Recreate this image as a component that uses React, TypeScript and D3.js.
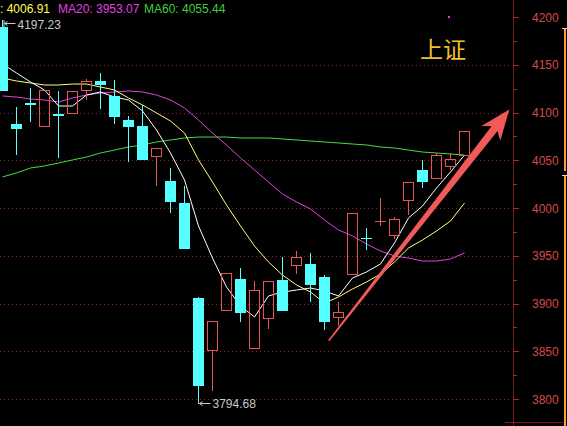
import React from "react";
import * as d3 from "d3";

// ---- data ----
const OPEN = [4189.5, 4088.0, 4110.0, 4084.8, 4098.4, 4098.4, 4122.5, 4133.0, 4117.3, 4092.1, 4085.9, 4053.4, 4028.3, 4005.2, 3905.8, 3850.3, 3892.2, 3925.7, 3852.4, 3883.8, 3924.6, 3939.3, 3941.4, 3927.8, 3884.8, 3929.9, 3968.6, 3985.7, 3970.7, 4007.3, 4039.8, 4030.4, 4042.9, 4054.5];
const HIGH = [4197.23, 4105.8, 4125.7, 4123.6, 4122.5, 4122.5, 4135.1, 4141.4, 4134.0, 4096.3, 4107.9, 4062.8, 4041.9, 4023.0, 3906.8, 3881.7, 3931.9, 3937.2, 3923.6, 3923.6, 3948.7, 3955.0, 3952.9, 3929.9, 3901.6, 3994.8, 3979.1, 4010.5, 3990.6, 4027.2, 4050.3, 4057.6, 4057.6, 4080.6];
const LOW = [4122.5, 4055.5, 4090.1, 4084.8, 4052.4, 4098.4, 4113.1, 4103.7, 4088.0, 4048.2, 4050.3, 4023.0, 3994.8, 3957.1, 3794.68, 3808.4, 3892.2, 3880.6, 3852.4, 3873.3, 3892.2, 3930.9, 3901.6, 3872.3, 3876.4, 3929.9, 3956.0, 3981.2, 3967.5, 3992.7, 4020.9, 4030.4, 4039.8, 4054.5];
const CLOSE = [4122.5, 4082.7, 4107.9, 4123.6, 4096.3, 4122.5, 4133.0, 4128.8, 4095.3, 4084.8, 4050.3, 4062.8, 4006.3, 3957.1, 3813.6, 3881.7, 3931.9, 3890.1, 3914.1, 3923.6, 3892.2, 3948.7, 3919.4, 3880.6, 3891.1, 3994.8, 3967.5, 3986.6, 3988.5, 4027.2, 4027.2, 4055.5, 4051.3, 4080.6];

const MA5 = [4150.8, 4141.4, 4131.9, 4123.6, 4106.8, 4106.8, 4118.3, 4121.5, 4116.2, 4113.1, 4101.6, 4081.7, 4057.6, 4029.3, 3981.2, 3947.6, 3917.3, 3897.4, 3885.9, 3907.9, 3912.0, 3914.1, 3916.2, 3913.1, 3907.9, 3926.7, 3933.0, 3941.4, 3963.4, 3989.5, 4002.1, 4020.9, 4037.7, 4055.5];
const MA10 = [4136.1, 4133.0, 4130.9, 4128.8, 4128.8, 4129.8, 4129.8, 4126.7, 4123.6, 4115.2, 4107.9, 4099.5, 4091.1, 4078.5, 4050.3, 4027.2, 4003.1, 3981.2, 3960.2, 3943.5, 3929.8, 3919.4, 3912.0, 3900.5, 3906.8, 3915.2, 3922.5, 3930.9, 3943.5, 3958.1, 3966.5, 3975.9, 3986.4, 4005.2];
const MA20 = [4117.3, 4116.2, 4114.1, 4113.1, 4111.0, 4115.2, 4118.3, 4120.4, 4121.5, 4122.5, 4121.5, 4118.3, 4113.1, 4104.7, 4092.1, 4078.5, 4066.0, 4052.4, 4039.8, 4027.2, 4014.7, 4006.3, 3999.0, 3987.4, 3977.0, 3970.7, 3962.3, 3955.0, 3949.7, 3947.6, 3944.5, 3944.5, 3946.6, 3952.9];
const MA60 = [4032.5, 4036.7, 4041.9, 4044.0, 4047.1, 4050.3, 4053.4, 4057.6, 4060.7, 4063.9, 4066.0, 4069.1, 4071.2, 4073.3, 4074.3, 4074.3, 4074.3, 4073.3, 4073.3, 4073.3, 4072.3, 4071.2, 4070.2, 4069.1, 4068.1, 4067.0, 4066.0, 4063.9, 4062.8, 4060.7, 4058.6, 4057.6, 4056.5, 4055.5];

const Y_TICKS = [3800, 3850, 3900, 3950, 4000, 4050, 4100, 4150, 4200];
const LEGEND = [
  { text: ": 4006.91", color: "#ffff55" },
  { text: "MA20: 3953.07", color: "#e040e0" },
  { text: "MA60: 4055.44", color: "#44cc44" },
];
const TITLE = "上证";
const HIGH_LABEL = "4197.23";
const LOW_LABEL = "3794.68";
// arrow annotation in data coordinates: [candle index, price]
const ARROW_FROM: [number, number] = [23.3, 3861];
const ARROW_TO: [number, number] = [36.2, 4103];

const W = 567;
const H = 426;
const AXIS_X = 513;

export default function App() {
  const x = d3.scaleLinear().domain([0, OPEN.length - 1]).range([2.5, 2.5 + 14 * (OPEN.length - 1)]);
  const y = d3.scaleLinear().domain([3800, 4200]).range([399, 17]);
  const line = d3
    .line<number>()
    .x((_, i) => x(i))
    .y((v) => y(v));

  const font = "'Liberation Sans', Arial, sans-serif";
  const cyan = "#55ffff";
  const red = "#e85555";

  const candles = OPEN.map((o, i) => {
    const c = CLOSE[i];
    const cx = x(i);
    const up = c >= o;
    const yTop = Math.round(y(Math.max(o, c)));
    const yBot = Math.round(y(Math.min(o, c)));
    const yH = Math.round(y(HIGH[i]));
    const yL = Math.round(y(LOW[i]));
    if (!up) {
      return (
        <g key={i}>
          <line x1={cx} x2={cx} y1={yH} y2={yL} stroke={cyan} strokeWidth={1} />
          <rect x={cx - 5.5} y={yTop} width={11} height={Math.max(1, yBot - yTop)} fill={cyan} />
        </g>
      );
    }
    const hgt = Math.max(0, yBot - yTop - 1);
    return (
      <g key={i}>
        {yH < yTop && <line x1={cx} x2={cx} y1={yH} y2={yTop} stroke={red} strokeWidth={1} />}
        {yL > yBot && <line x1={cx} x2={cx} y1={yBot} y2={yL} stroke={red} strokeWidth={1} />}
        {hgt > 0 ? (
          <rect x={cx - 5} y={yTop + 0.5} width={10} height={hgt} fill="none" stroke={red} strokeWidth={1} />
        ) : (
          <line x1={cx - 5.5} x2={cx + 5.5} y1={yTop + 0.5} y2={yTop + 0.5} stroke={red} strokeWidth={1} />
        )}
      </g>
    );
  });

  // arrow polygon
  const ax0 = x(ARROW_FROM[0]);
  const ay0 = y(ARROW_FROM[1]);
  const ax1 = x(ARROW_TO[0]);
  const ay1 = y(ARROW_TO[1]);
  const dx = ax1 - ax0;
  const dy = ay1 - ay0;
  const len = Math.hypot(dx, dy);
  const ux = dx / len;
  const uy = dy / len;
  const nx = -uy;
  const ny = ux;
  const headLen = 30;
  const bx = ax1 - ux * headLen;
  const by = ay1 - uy * headLen;
  const notchX = ax1 - ux * (headLen - 6);
  const notchY = ay1 - uy * (headLen - 6);
  const pt = (px: number, py: number) => `${px.toFixed(1)},${py.toFixed(1)}`;
  const arrowPts = [
    pt(ax0 + nx * 0.8, ay0 + ny * 0.8),
    pt(notchX + nx * 3.8, notchY + ny * 3.8),
    pt(bx + nx * 12, by + ny * 12),
    pt(ax1, ay1),
    pt(bx - nx * 12, by - ny * 12),
    pt(notchX - nx * 3.8, notchY - ny * 3.8),
    pt(ax0 - nx * 0.8, ay0 - ny * 0.8),
  ].join(" ");

  const lowIdx = LOW.indexOf(Math.min(...LOW));
  const lowX = x(lowIdx);
  const lowY = Math.round(y(LOW[lowIdx]));
  const highIdx = HIGH.indexOf(Math.max(...HIGH));
  const highX = x(highIdx);
  const highY = Math.round(y(HIGH[highIdx]));

  const legendX = [0, 58, 144];

  return (
    <svg
      width={W}
      height={H}
      style={{ position: "absolute", left: 0, top: 0, display: "block", background: "#000" }}
    >
      <rect x={0} y={0} width={W} height={H} fill="#000" />
      {/* grid */}
      {Y_TICKS.filter((t) => t < 4200).map((t) => (
        <line
          key={"g" + t}
          x1={0}
          x2={AXIS_X - 1}
          y1={Math.round(y(t)) + 0.5}
          y2={Math.round(y(t)) + 0.5}
          stroke="#8a2222"
          strokeWidth={1}
          strokeDasharray="1,3"
        />
      ))}
      <defs>
        <clipPath id="plot">
          <rect x={0} y={0} width={AXIS_X} height={H} />
        </clipPath>
      </defs>
      <g clipPath="url(#plot)">
        <path d={line(MA60) || ""} fill="none" stroke="#44dd44" strokeWidth={1} />
        <path d={line(MA20) || ""} fill="none" stroke="#dd44dd" strokeWidth={1} />
        <path d={line(MA10) || ""} fill="none" stroke="#ffff77" strokeWidth={1} />
        <path d={line(MA5) || ""} fill="none" stroke="#ffffff" strokeWidth={1} />
        {candles}
      </g>
      {/* arrow annotation */}
      <polygon points={arrowPts} fill="#f25a5a" />
      {/* high / low labels */}
      <g stroke="#c8c8c8" strokeWidth={1} fill="none">
        <path d={`M${highX + 1.5},${highY} V${highY + 7}`} />
        <path d={`M${highX + 2},${highY + 3.5} H${highX + 13}`} />
        <path d={`M${highX + 5},${highY + 1.5} L${highX + 2},${highY + 3.5} L${highX + 5},${highY + 5.5}`} />
        <path d={`M${lowX},${lowY - 4} V${lowY}`} />
        <path d={`M${lowX + 1},${lowY - 0.5} H${lowX + 12}`} />
        <path d={`M${lowX + 4},${lowY - 2.5} L${lowX + 1},${lowY - 0.5} L${lowX + 4},${lowY + 1.5}`} />
      </g>
      <text x={highX + 15} y={highY + 9} fill="#c8c8c8" fontFamily={font} fontSize={12}>
        {HIGH_LABEL}
      </text>
      <text x={lowX + 14} y={lowY + 4} fill="#c8c8c8" fontFamily={font} fontSize={12}>
        {LOW_LABEL}
      </text>
      {/* legend */}
      {LEGEND.map((l, i) => (
        <text key={l.text} x={legendX[i]} y={13} fill={l.color} fontFamily={font} fontSize={12}>
          {l.text}
        </text>
      ))}
      {/* title */}
      <text x={420} y={58} fill="#f0c030" fontFamily="'Noto Sans CJK SC', sans-serif" fontSize={23}>
        {TITLE}
      </text>
      <rect x={448} y={16} width={2} height={2} fill="#e040e0" />
      {/* right axis */}
      <line x1={AXIS_X + 0.5} x2={AXIS_X + 0.5} y1={0} y2={H} stroke="#801818" strokeWidth={1} />
      <line x1={505} x2={563} y1={422.5} y2={422.5} stroke="#801818" strokeWidth={1} />
      {Y_TICKS.map((t) => (
        <g key={"t" + t}>
          <line
            x1={AXIS_X}
            x2={AXIS_X + 6}
            y1={Math.round(y(t)) + 0.5}
            y2={Math.round(y(t)) + 0.5}
            stroke="#a02828"
            strokeWidth={1}
          />
          {t < 4200 && (
            <line
              x1={AXIS_X}
              x2={AXIS_X + 4}
              y1={Math.round(y(t + 25)) + 0.5}
              y2={Math.round(y(t + 25)) + 0.5}
              stroke="#a02828"
              strokeWidth={1}
            />
          )}
          <text x={532} y={y(t) + 4.5} fill="#d84848" fontFamily={font} fontSize={12}>
            {t}
          </text>
        </g>
      ))}
      {/* right-edge bar */}
      <rect x={564} y={28} width={2} height={143} fill="#ff9a30" />
      <rect x={564} y={176} width={2} height={H - 176} fill="#ffa030" />
      <line x1={562} x2={567} y1={28.5} y2={28.5} stroke="#ffd0a0" strokeWidth={1} />
      <line x1={562} x2={567} y1={175.5} y2={175.5} stroke="#ffd0a0" strokeWidth={1} />
    </svg>
  );
}
